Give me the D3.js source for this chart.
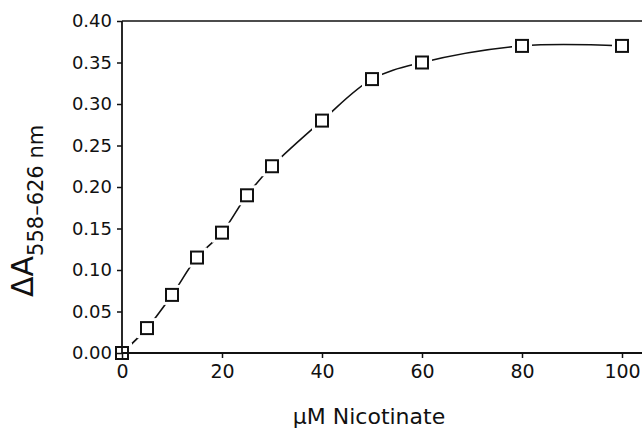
<!DOCTYPE html>
<html>
<head>
<meta charset="utf-8">
<script src="https://cdn.jsdelivr.net/npm/d3@7"></script>
<style>
  html, body { margin: 0; padding: 0; background: #fff; }
  svg { display: block; }
  text { font-family: "DejaVu Sans", sans-serif; fill: #111; }
</style>
</head>
<body>
<svg id="chart" width="642" height="431"></svg>
<script>
const concentrations = [0, 5, 10, 15, 20, 25, 30, 40, 50, 60, 80, 100];
const deltaA = [0, 0.03, 0.07, 0.115, 0.145, 0.19, 0.225, 0.28, 0.33, 0.35, 0.37, 0.37];
const xTicks = [0, 20, 40, 60, 80, 100];
const yTicks = [0, 0.05, 0.10, 0.15, 0.20, 0.25, 0.30, 0.35, 0.40];
const xTitle = "μM Nicotinate";
const yTitleMain = "ΔA";
const yTitleSub = "558–626 nm";

(function () {
const svg = d3.select("#chart");
const mLeft = 122, mRight = 622, mTop = 21, mBottom = 353;

const x = d3.scaleLinear().domain([0, 100]).range([mLeft, mRight]);
const y = d3.scaleLinear().domain([0, 0.4]).range([mBottom, mTop]);

const data = concentrations.map((c, i) => ({ c, v: deltaA[i] }));

// curve
const line = d3.line().x(d => x(d.c)).y(d => y(d.v)).curve(d3.curveCatmullRom.alpha(0.5));
svg.append("path").datum(data).attr("d", line)
  .attr("fill", "none").attr("stroke", "#111").attr("stroke-width", 1.6);

// marker halos (gaps around markers)
svg.append("g").selectAll("rect").data(data).join("rect")
  .attr("x", d => x(d.c) - 10).attr("y", d => y(d.v) - 10)
  .attr("width", 20).attr("height", 20).attr("fill", "#fff");

// markers
svg.append("g").selectAll("rect").data(data).join("rect")
  .attr("x", d => x(d.c) - 6).attr("y", d => y(d.v) - 6)
  .attr("width", 12).attr("height", 12)
  .attr("fill", "none").attr("stroke", "#111").attr("stroke-width", 2);

// axes
const xAxis = d3.axisBottom(x).tickValues(xTicks).tickFormat(d3.format("d"))
  .tickSizeInner(5).tickSizeOuter(0).tickPadding(7);
const gx = svg.append("g").attr("transform", `translate(0,${mBottom})`).call(xAxis);
gx.select(".domain").remove();
gx.selectAll("text").style("font-size", "19px").attr("fill", "#111");
gx.selectAll("line").attr("stroke", "#111").attr("stroke-width", 1.5);

const yAxis = d3.axisLeft(y).tickValues(yTicks).tickFormat(d3.format(".2f"))
  .tickSizeInner(5).tickSizeOuter(0).tickPadding(5);
const gy = svg.append("g").attr("transform", `translate(${mLeft},0)`).call(yAxis);
gy.select(".domain").remove();
gy.selectAll("text").style("font-size", "18px").attr("fill", "#111");
gy.selectAll("line").attr("stroke", "#111").attr("stroke-width", 1.5);

// axis lines (drawn over marker halos)
svg.append("line").attr("x1", mLeft).attr("x2", 642).attr("y1", mBottom).attr("y2", mBottom)
  .attr("stroke", "#111").attr("stroke-width", 1.8);
svg.append("line").attr("x1", mLeft).attr("x2", 642).attr("y1", mTop).attr("y2", mTop)
  .attr("stroke", "#111").attr("stroke-width", 1.5);
svg.append("line").attr("x1", mLeft).attr("x2", mLeft).attr("y1", mTop).attr("y2", mBottom)
  .attr("stroke", "#111").attr("stroke-width", 1.8);

// x title
svg.append("text").attr("x", 369).attr("y", 424).attr("text-anchor", "middle")
  .style("font-size", "22px").text(xTitle);

// y title
const yt = svg.append("text").attr("transform", "translate(33,297) rotate(-90)")
  .attr("text-anchor", "start").style("font-size", "30px");
yt.append("tspan").text(yTitleMain);
yt.append("tspan").attr("dy", 10).style("font-size", "21px").text(yTitleSub);
})();
</script>
</body>
</html>
